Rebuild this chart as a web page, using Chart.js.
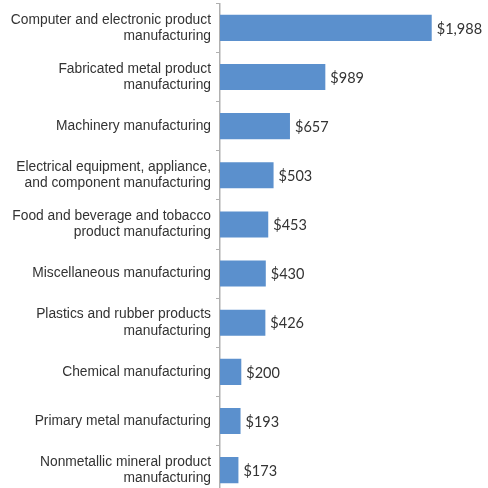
<!DOCTYPE html>
<html>
<head>
<meta charset="utf-8">
<script src="https://cdn.jsdelivr.net/npm/chart.js@4"></script>
<style>
  html, body { margin: 0; padding: 0; background: #fff; overflow: hidden; }
  #wrap { width: 488px; height: 534px; position: relative; top: -18px; }
</style>
</head>
<body>
<div id="wrap"><canvas id="industryChart"></canvas></div>
<script>
// Industries and values (in $)
var industries = [
    ['Computer and electronic product', 'manufacturing'],
    ['Fabricated metal product', 'manufacturing'],
    'Machinery manufacturing',
    ['Electrical equipment, appliance,', 'and component manufacturing'],
    ['Food and beverage and tobacco', 'product manufacturing'],
    'Miscellaneous manufacturing',
    ['Plastics and rubber products', 'manufacturing'],
    'Chemical manufacturing',
    'Primary metal manufacturing',
    ['Nonmetallic mineral product', 'manufacturing']
];
var amounts = [1988, 989, 657, 503, 453, 430, 426, 200, 193, 173];

// value labels to the right of each bar
var valueLabels = {
    id: 'valueLabels',
    afterDatasetsDraw: function (chart) {
        var ctx = chart.ctx;
        var meta = chart.getDatasetMeta(0);
        ctx.save();
        ctx.font = '14.5px Lato';
        ctx.fillStyle = '#333';
        ctx.textBaseline = 'middle';
        meta.data.forEach(function (bar, i) {
            ctx.fillText('$' + amounts[i].toLocaleString('en-US'), bar.x + 5, bar.y + 1);
        });
        ctx.restore();
    }
};

var ctxIndustry = document.getElementById('industryChart').getContext('2d');
var industryChart = new Chart(ctxIndustry, {
    type: 'bar',
    data: {
        labels: industries,
        datasets: [{
            data: amounts,
            backgroundColor: '#5b90cd',
            borderWidth: 0,
            categoryPercentage: 1,
            barPercentage: 0.53
        }]
    },
    options: {
        indexAxis: 'y',
        responsive: true,
        maintainAspectRatio: false,
        animation: false,
        layout: { padding: { top: 3, right: 55, bottom: 4, left: 0 } },
        plugins: {
            legend: { display: false },
            tooltip: { enabled: false }
        },
        scales: {
            x: {
                display: false,
                min: 0,
                max: 2000
            },
            y: {
                afterFit: function (scale) { scale.width = 220; },
                grid: {
                    offset: true,
                    drawOnChartArea: false,
                    tickLength: 4,
                    color: '#b0b0b0'
                },
                border: { color: '#b0b0b0', width: 1.5 },
                ticks: {
                    padding: 5,
                    color: '#333',
                    font: { family: 'Liberation Sans', size: 13.8, lineHeight: 1.18 }
                }
            }
        }
    },
    plugins: [valueLabels]
});
</script>
</body>
</html>
